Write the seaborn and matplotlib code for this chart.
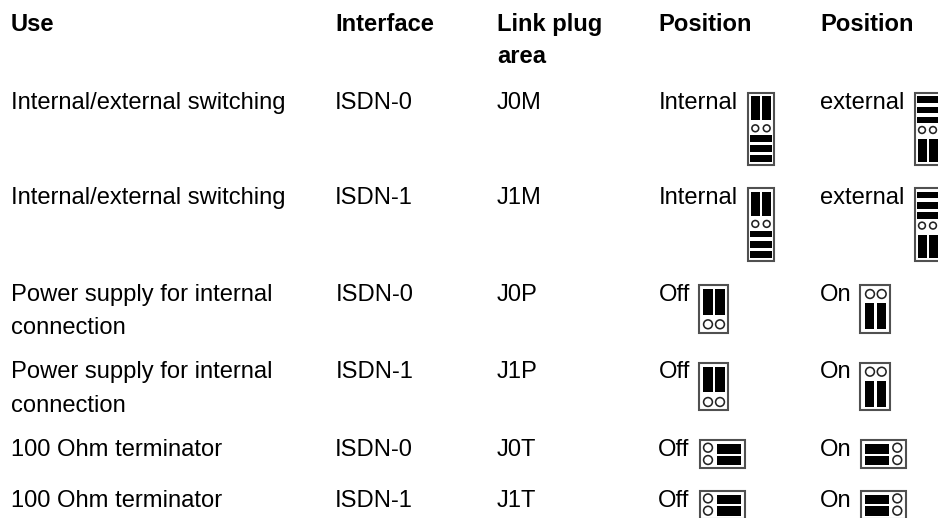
import matplotlib
matplotlib.use("Agg")
import matplotlib.pyplot as plt
from matplotlib.patches import Rectangle, Circle
import seaborn as sns

sns.set_theme(style="white")
plt.rcParams['font.family'] = ['Liberation Sans', 'DejaVu Sans']

headers = ["Use", "Interface", "Link plug\narea", "Position", "Position"]
uses = ["Internal/external switching", "Internal/external switching",
        "Power supply for internal\nconnection", "Power supply for internal\nconnection",
        "100 Ohm terminator", "100 Ohm terminator"]
interfaces = ["ISDN-0", "ISDN-1", "ISDN-0", "ISDN-1", "ISDN-0", "ISDN-1"]
plugs = ["J0M", "J1M", "J0P", "J1P", "J0T", "J1T"]
pos_a = ["Internal", "Internal", "Off", "Off", "Off", "Off"]
pos_b = ["external", "external", "On", "On", "On", "On"]
kinds_a = ["tall_top", "tall_top", "v_top", "v_top", "h_right", "h_right"]
kinds_b = ["tall_bottom", "tall_bottom", "v_bottom", "v_bottom", "h_left", "h_left"]

col_x = [11, 335.5, 497, 658.5, 820]
col_use, col_if, col_plug, col_a, col_b = col_x
row_base = [109, 204, 300.7, 378, 456, 507]
if_off = [-0.5, -0.5, 0.5, 0.5, -1, -1]
row_off = [0, 0, 0, 0, -1, -1]
icon_y = [92.7, 188.3, 285.0, 362.7, 440.0, 490.7]
icon_xa = [747.5, 747.5, 698.7, 698.7, 699.7, 699.7]
icon_xb = [914.7, 914.7, 860.3, 860.3, 861.3, 861.3]

fig = plt.figure(figsize=(9.38, 5.18), dpi=100)
ax = fig.add_axes([0, 0, 1, 1])
ax.set_xlim(0, 938)
ax.set_ylim(518, 0)
ax.axis("off")

FS = 17.1
FRAME = "#505050"


def bar(x0, y0, w, h):
    ax.add_patch(Rectangle((x0, y0), w, h, fc="black", ec="none"))


def ring(cx, cy, r):
    ax.add_patch(Circle((cx, cy), r, fc="white", ec="#222222", lw=1.15))


def frame(x0, y0, w, h):
    ax.add_patch(Rectangle((x0, y0), w, h, fc="white", ec=FRAME, lw=1.5))


def jumper(kind, x, y):
    if kind == "tall_top":
        frame(x, y, 26.5, 72.5)
        for dx in (3.5, 14.8):
            bar(x + dx, y + 3.5, 8.6, 24)
        for dx in (7.8, 19.2):
            ring(x + dx, y + 35.6, 3.4)
        for dy in (42.3, 52.6, 62.6):
            bar(x + 2.5, y + dy, 22, 6.7)
    elif kind == "tall_bottom":
        frame(x, y, 26.5, 72.5)
        for dy in (3.3, 14, 24):
            bar(x + 2.5, y + dy, 22, 6.7)
        for dx in (7.3, 18.3):
            ring(x + dx, y + 37.3, 3.4)
        for dx in (3.6, 14.6):
            bar(x + dx, y + 46.3, 8.4, 23.3)
    elif kind == "v_top":
        frame(x, y, 29.6, 47.7)
        for dx in (4.6, 16.6):
            bar(x + dx, y + 4, 9.4, 25.7)
        for dx in (9.3, 21.3):
            ring(x + dx, y + 39.3, 4.4)
    elif kind == "v_bottom":
        frame(x, y, 30, 47.7)
        for dx in (9.7, 21.4):
            ring(x + dx, y + 9, 4.4)
        for dx in (4.4, 16.4):
            bar(x + dx, y + 18.3, 9.6, 26)
    elif kind == "h_right":
        frame(x, y, 45.3, 28.3)
        for dy in (7.7, 20):
            ring(x + 8.3, y + dy, 4.4)
        for dy in (4.3, 15.7):
            bar(x + 17, y + dy, 24, 9.2)
    elif kind == "h_left":
        frame(x, y, 44.7, 28.3)
        for dy in (4.3, 15.7):
            bar(x + 4, y + dy, 23.7, 9.2)
        for dy in (7.7, 20):
            ring(x + 36, y + dy, 4.4)


for x, h in zip(col_x, headers):
    ax.text(x, 31, h.split("\n")[0], fontsize=FS, fontweight="bold", color="black", va="baseline")
    if "\n" in h:
        ax.text(x, 63.3, h.split("\n")[1], fontsize=FS, fontweight="bold", color="black", va="baseline")

for i in range(6):
    b = row_base[i]
    for j, line in enumerate(uses[i].split("\n")):
        ax.text(col_use, b + j * 33.6, line, fontsize=FS, color="black", va="baseline")
    ax.text(col_if + if_off[i], b, interfaces[i], fontsize=FS, color="black", va="baseline")
    ax.text(col_plug, b, plugs[i], fontsize=FS, color="black", va="baseline")
    ax.text(col_a + row_off[i], b, pos_a[i], fontsize=FS, color="black", va="baseline")
    ax.text(col_b, b, pos_b[i], fontsize=FS, color="black", va="baseline")
    jumper(kinds_a[i], icon_xa[i], icon_y[i])
    jumper(kinds_b[i], icon_xb[i], icon_y[i])

fig.savefig("out.png", dpi=100)
